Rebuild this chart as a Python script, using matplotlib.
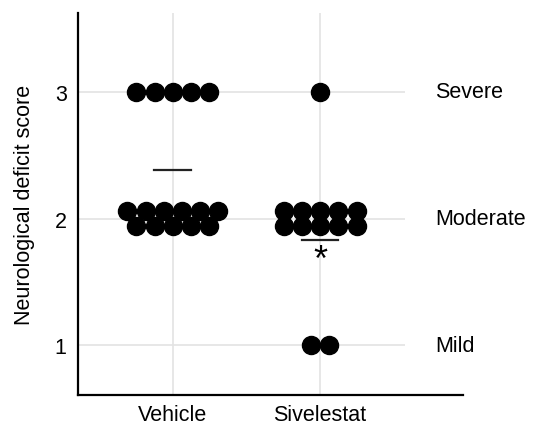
import numpy as np
import matplotlib
matplotlib.use('Agg')
import matplotlib.pyplot as plt

plt.rcParams['font.family'] = ['Liberation Sans', 'DejaVu Sans']

# Data
groups = ['Vehicle', 'Sivelestat']
vehicle_scores = [3] * 5 + [2] * 11
sivelestat_scores = [3] * 1 + [2] * 10 + [1] * 2
mean_lines = [2.38, 1.83]
score_levels = [1, 2, 3]
score_names = ['Mild', 'Moderate', 'Severe']

fig = plt.figure(figsize=(5.33, 4.27), dpi=100)
ax = fig.add_axes([0.146, 0.072, 0.723, 0.895])

dx = 0.124   # horizontal spacing between dots
dy = 0.059   # half the vertical gap between two rows


def swarm(xc, scores):
    xs, ys = [], []
    for lev in sorted(set(scores)):
        n = scores.count(lev)
        if n > 6:
            rows = [((n + 1) // 2, lev + dy), (n // 2, lev - dy)]
        else:
            rows = [(n, lev)]
        for k, yrow in rows:
            offs = (np.arange(k) - (k - 1) / 2) * dx
            xs.extend(xc + offs)
            ys.extend([yrow] * k)
    return xs, ys


xpos = [1, 2]
for xc, sc in zip(xpos, [vehicle_scores, sivelestat_scores]):
    xs, ys = swarm(xc, sc)
    ax.plot(xs, ys, 'o', color='black', ms=13, mec='black', zorder=3)

for xc, m in zip(xpos, mean_lines):
    ax.plot([xc - 0.125, xc + 0.125], [m, m], color='#222222', lw=1.6, zorder=3)

ax.text(2, mean_lines[1] - 0.02, '*', ha='center', va='top', fontsize=26,
        color='black')

ax.set_xlim(0.354, 2.973)
ax.set_ylim(0.606, 3.622)

# grid
ax.hlines(score_levels, 0.354, 2.578, color='#e3e3e3', lw=1.2, zorder=0)
ax.vlines(xpos, 0.606, 3.622, color='#e3e3e3', lw=1.2, zorder=0)

for lev, name in zip(score_levels, score_names):
    ax.text(2.78, lev, name, ha='left', va='center', fontsize=15.5,
            clip_on=False)

ax.set_xticks(xpos)
ax.set_xticklabels(groups)
ax.set_yticks(score_levels)
ax.tick_params(axis='y', length=0, labelsize=15.5, pad=8)
ax.tick_params(axis='x', length=0, labelsize=15.5, pad=6)
ax.set_ylabel('Neurological deficit score', fontsize=15.5, labelpad=14)

for s in ['top', 'right']:
    ax.spines[s].set_visible(False)
for s in ['left', 'bottom']:
    ax.spines[s].set_linewidth(1.6)

fig.savefig('out.png', dpi=100)
